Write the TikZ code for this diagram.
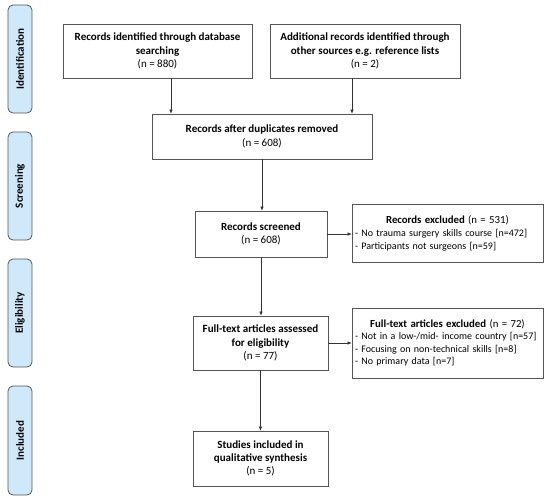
\documentclass[tikz,border=0pt]{standalone}
\usepackage{fontspec}
\setmainfont{Carlito}
\usetikzlibrary{arrows.meta}
\definecolor{phasefill}{HTML}{CFE9FB}
\definecolor{lineclr}{HTML}{555555}
\newcommand{\excltitle}[1]{\makebox[185pt][c]{\fontsize{10.8}{13}\selectfont #1}}

\begin{document}
\begin{tikzpicture}[x=1pt,y=-1pt,>=Latex,
  phase/.style={draw=lineclr,fill=phasefill,line width=0.8pt,rounded corners=5pt,rotate=90,minimum width=108pt,minimum height=24pt,inner sep=0pt,font=\fontsize{11}{13}\selectfont\bfseries},
  stagebox/.style={draw=lineclr,fill=white,line width=0.7pt,align=center,inner sep=2pt,font=\fontsize{11}{13.3}\selectfont},
  exclbox/.style={draw=lineclr,fill=white,line width=0.7pt,align=left,text width=185pt,inner sep=3pt,font=\fontsize{10}{12.5}\selectfont},
  arr/.style={draw=black!80,line width=0.6pt,-{Latex[length=4pt,width=3.5pt]}}]
\useasboundingbox (0,0) rectangle (550,499);
% phase labels
\node[phase,minimum width=108pt] (ident) at (20,59) {Identification};
\node[phase,minimum width=108pt] (screen) at (20,186) {Screening};
\node[phase,minimum width=108pt] (elig) at (20,313) {Eligibility};
\node[phase,minimum width=109pt] (incl) at (20,440.5) {Included};
% flow boxes
\node[stagebox,minimum width=189pt,minimum height=54pt] (dbrec) at (157.5,51) {\textbf{Records identified through database}\\\textbf{searching}\\(n = 880)};
\node[stagebox,minimum width=190pt,minimum height=54pt] (addrec) at (365,51) {\textbf{Additional records identified through}\\\textbf{other sources e.g. reference lists}\\(n = 2)};
\node[stagebox,minimum width=220pt,minimum height=45pt] (dedup) at (262,136.5) {\textbf{Records after duplicates removed}\\(n = 608)};
\node[stagebox,minimum width=132pt,minimum height=46pt] (screened) at (261,234) {\textbf{Records screened}\\(n = 608)};
\node[exclbox,minimum height=58pt] (excl1) at (447.5,233) {\excltitle{\textbf{Records excluded} (n = 531)}\\[1pt]
- No trauma surgery skills course [n=472]\\
- Participants not surgeons [n=59]};
\node[stagebox,minimum width=135pt,minimum height=54pt] (fulltext) at (260.5,343) {\textbf{Full-text articles assessed}\\\textbf{for eligibility}\\(n = 77)};
\node[exclbox,minimum height=70pt] (excl2) at (447.5,343) {\excltitle{\textbf{Full-text articles excluded} (n = 72)}\\[0pt]
- Not in a low-/mid- income country [n=57]\\
- Focusing on non-technical skills [n=8]\\
- No primary data [n=7]};
\node[stagebox,minimum width=135pt,minimum height=55pt] (studies) at (260.5,458.5) {\textbf{Studies included in}\\\textbf{qualitative synthesis}\\(n = 5)};
% connectors
\coordinate (dbout) at ([xshift=13.5pt]dbrec.south);
\coordinate (addout) at ([xshift=-13pt]addrec.south);
\draw[arr] (dbout) -- (dbout |- dedup.north);
\draw[arr] (addout) -- (addout |- dedup.north);
\draw[arr] (dedup.south) -- (dedup.south |- screened.north);
\draw[arr] (screened.south) -- (screened.south |- fulltext.north);
\draw[arr] (fulltext.south) -- (fulltext.south |- studies.north);
\draw[arr] (screened.east) -- (screened.east -| excl1.west);
\draw[arr] (fulltext.east) -- (fulltext.east -| excl2.west);
\end{tikzpicture}
\end{document}
